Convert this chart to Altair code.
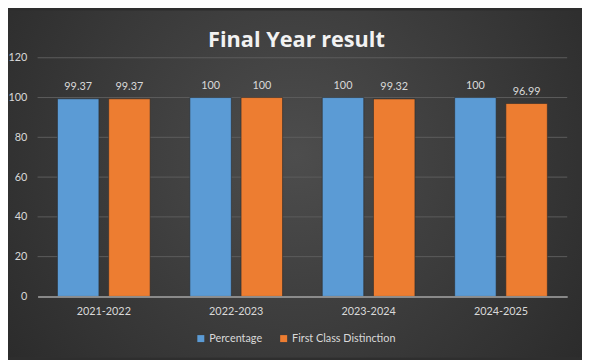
import altair as alt
import pandas as pd

years = ["2021-2022", "2022-2023", "2023-2024", "2024-2025"]
percentage = [99.37, 100, 100, 100]
distinction = [99.37, 100, 99.32, 96.99]
series = ["Percentage", "First Class Distinction"]
colors = ["#5b9bd5", "#ed7d31"]
y_ticks = [0, 20, 40, 60, 80, 100, 120]

rows = []
for i, y in enumerate(years):
    rows.append({"Year": y, "Series": series[0], "Value": percentage[i]})
    rows.append({"Year": y, "Series": series[1], "Value": distinction[i]})
df = pd.DataFrame(rows)
grid_df = pd.DataFrame({"Value": y_ticks[1:]})

FONT = "Lato"
W, H = 537, 242
PAD = {"left": 30, "top": 48, "right": 15, "bottom": 62}

x = alt.X("Year:N", sort=years, title=None,
          scale=alt.Scale(paddingInner=0.3, paddingOuter=0.15),
          axis=alt.Axis(labelAngle=0, labelFontSize=11, labelColor="#d9d9d9",
                        labelFont=FONT, ticks=False, domainColor="#a6a6a6",
                        domainWidth=1.5, labelPadding=9, grid=False, zindex=1))
xo = alt.XOffset("Series:N", sort=series,
                 scale=alt.Scale(paddingInner=0.19, paddingOuter=0))
yenc = alt.Y("Value:Q", title=None,
             scale=alt.Scale(domain=[0, 120]),
             axis=alt.Axis(values=y_ticks, labelFontSize=11,
                           labelColor="#d9d9d9", labelFont=FONT, ticks=False,
                           domain=False, grid=False, labelPadding=11, zindex=1))

bg = alt.Chart(pd.DataFrame({"k": [0]})).mark_rect(
    color={"gradient": "radial", "x1": 0.5, "y1": 0.45, "r1": 0,
           "x2": 0.5, "y2": 0.45, "r2": 0.75,
           "stops": [{"offset": 0, "color": "#4d4d4d"},
                     {"offset": 1, "color": "#242424"}]}
).encode(
    x=alt.value(-PAD["left"]), x2=alt.value(W + PAD["right"]),
    y=alt.value(-PAD["top"]), y2=alt.value(H + PAD["bottom"]),
)

grid = alt.Chart(grid_df).mark_rule(color="#5c5c5c", strokeWidth=1).encode(
    y=yenc
)

bars = alt.Chart(df).mark_bar(stroke="#2a2a2a", strokeWidth=1, strokeOpacity=0.6).encode(
    x=x, xOffset=xo, y=yenc,
    color=alt.Color("Series:N", sort=series,
                    scale=alt.Scale(domain=series, range=colors),
                    legend=alt.Legend(title=None, orient="none", direction="horizontal",
                                      legendX=160, legendY=279, symbolType="square",
                                      symbolSize=50, symbolStrokeWidth=0,
                                      labelColor="#d9d9d9", labelFont=FONT,
                                      labelFontSize=11, columnPadding=16,
                                      labelOffset=3, zindex=1)),
)

labels = alt.Chart(df).mark_text(baseline="bottom", dy=-7, fontSize=11, font=FONT,
                                 color="#d9d9d9").encode(
    x=x, xOffset=xo, y=yenc, text=alt.Text("Value:Q")
)

chart = alt.layer(bg, grid, bars, labels).properties(
    width=W, height=H,
    title=alt.TitleParams("Final Year result", font="Open Sans", fontSize=22,
                          fontWeight="bold", color="#f2f2f2", anchor="middle",
                          dx=-6, offset=-42, zindex=1),
    background="#2e2e2e",
    padding=PAD,
    autosize=alt.AutoSizeParams(type="none"),
).configure_view(stroke=None)

chart.save("out.html", embed_options={"renderer": "svg", "actions": False})
